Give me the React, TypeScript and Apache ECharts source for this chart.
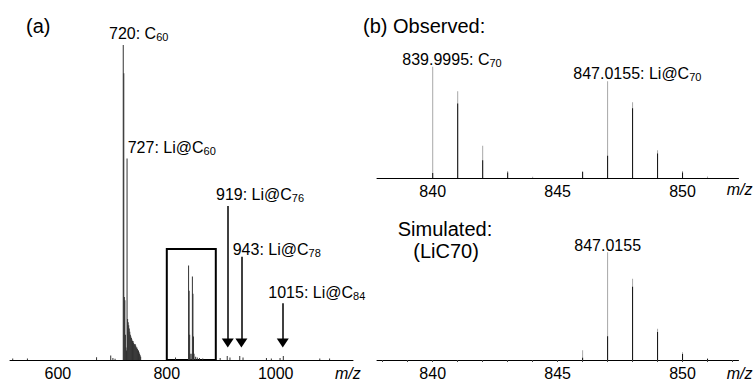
import React, { useEffect, useRef } from "react";
import * as echarts from "echarts";

// ---------- Data ----------
// (a) survey spectrum: m/z and relative intensity (% of the 720 peak)
const surveyMz = [
  517, 544, 671, 697, 701, 705,
  720, 721, 722, 723, 724, 725, 726, 727, 728, 729, 730, 731, 732, 733, 734, 735, 736, 737, 738, 739,
  740, 741, 742, 743, 744, 745, 746, 747, 748, 749, 750, 751, 752,
  816, 840, 841, 842, 843, 846, 847, 848, 849, 850, 853, 856, 860, 866,
  898, 911, 916, 934, 940, 983, 992, 1008, 1014, 1081, 1099,
];
const surveyInt = [
  0.5, 0.5, 0.9, 1.4, 0.6, 0.4,
  100, 91, 20, 19, 8, 4, 3, 64, 13, 12, 11, 10, 9, 8, 7.5, 7, 6.5, 6, 6, 5.5,
  5, 5, 5, 4.5, 4, 4, 3.5, 3, 3, 2.5, 2, 1.5, 1,
  0.8, 30, 22, 8, 2, 2, 26.5, 21, 7.5, 2, 1, 0.8, 0.6, 0.5,
  0.6, 1.3, 0.8, 1.3, 0.8, 0.6, 0.5, 0.6, 1.3, 0.5, 0.5,
];
const surveyTicks = [600, 800, 1000];
const arrowMz = [912, 937, 1013];
const arrowTop = [48.9, 32.8, 18];
const arrowEnd = 5.4;
const boxMz = [800, 890];
const boxTop = 35.2;

// (b) observed (profile = grey trace, stick = black trace), % of 839.9995 peak
const obsMz = [840, 841, 842, 843, 844, 846, 847, 848, 849, 850, 851];
const obsProfile = [100, 78, 29, 6.3, 1.2, 6.3, 87, 68, 25, 6.3, 1.3];
const obsStick = [4.5, 67, 16, 5, 0, 5.5, 20, 62.6, 22, 5, 0];

// (b) simulated LiC70, % of 847.0155 peak
const simMz = [846, 847, 848, 849, 850, 851];
const simProfile = [9, 100, 75.5, 29, 7.3, 1.8];
const simStick = [2, 22, 68, 26, 5.5, 1];

const zoomTicks = [840, 845, 850];
const zoomMinor = [838, 839, 840, 841, 842, 843, 844, 845, 846, 847, 848, 849, 850, 851, 852];

// ---------- helpers ----------
const FONT = "'Liberation Sans', Arial, Helvetica, sans-serif";

const pairs = (xs: number[], ys: number[]) => xs.map((x, i) => [x, ys[i]]);

function label(x: number, y: number, main: string, sub?: string, size = 16, italic = false) {
  const subSize = Math.round(size * 0.68);
  return {
    type: "text",
    x,
    y,
    silent: true,
    style: {
      text: sub ? `{m|${main}}{s|${sub}}` : `{m|${main}}`,
      align: "left",
      verticalAlign: "middle",
      textAlign: "left",
      textVerticalAlign: "middle",
      fill: "#000",
      fontFamily: FONT,
      fontSize: size,
      rich: {
        m: {
          fontSize: size,
          fontFamily: FONT,
          fontStyle: italic ? "italic" : "normal",
          lineHeight: size + 2,
          fill: "#000",
          color: "#000",
        },
        s: {
          fontSize: subSize,
          fontFamily: FONT,
          lineHeight: subSize,
          verticalAlign: "bottom",
          fill: "#000",
          color: "#000",
        },
      },
    },
  };
}

export default function App() {
  const ref = useRef<HTMLDivElement>(null);

  useEffect(() => {
    if (!ref.current) return;
    const chart = echarts.init(ref.current, undefined, { renderer: "svg" });

    const axisLabelBase = {
      fontSize: 16,
      color: "#000",
      fontFamily: FONT,
      margin: 5,
      formatter: (v: number) => String(v),
    };

    const option: any = {
      animation: false,
      backgroundColor: "#fff",
      grid: [
        { left: 10, right: 402, top: 45, bottom: 19 },
        { left: 377, right: 16.5, top: 66.7, bottom: 203 },
        { left: 377, right: 16.5, top: 252.3, bottom: 18.7 },
      ],
      xAxis: [
        {
          type: "value",
          gridIndex: 0,
          min: 512,
          max: 1142,
          axisLine: { show: true, onZero: false, lineStyle: { color: "#000", width: 1 } },
          axisTick: { show: false },
          splitLine: { show: false },
          axisLabel: { ...axisLabelBase, customValues: surveyTicks },
        },
        {
          type: "value",
          gridIndex: 1,
          min: 837.77,
          max: 852.24,
          axisLine: { show: true, onZero: false, lineStyle: { color: "#000", width: 1 } },
          axisTick: { show: false },
          splitLine: { show: false },
          axisLabel: { ...axisLabelBase, customValues: zoomTicks },
        },
        {
          type: "value",
          gridIndex: 2,
          min: 837.77,
          max: 852.24,
          axisLine: { show: true, onZero: false, lineStyle: { color: "#000", width: 1 } },
          axisTick: {
            show: true,
            customValues: zoomMinor,
            length: 2,
            lineStyle: { color: "#444", width: 1 },
          },
          splitLine: { show: false },
          axisLabel: { ...axisLabelBase, customValues: zoomTicks },
        },
      ],
      yAxis: [
        { type: "value", gridIndex: 0, min: 0, max: 100, show: false },
        { type: "value", gridIndex: 1, min: 0, max: 100, show: false },
        { type: "value", gridIndex: 2, min: 0, max: 100, show: false },
      ],
      series: [
        {
          type: "bar",
          xAxisIndex: 0,
          yAxisIndex: 0,
          barWidth: 1,
          itemStyle: { color: "#333" },
          data: pairs(surveyMz, surveyInt),
          markLine: {
            silent: true,
            symbol: ["none", "triangle"],
            symbolSize: [12, 9],
            label: { show: false },
            lineStyle: { color: "#000", width: 1.5, type: "solid" },
            data: arrowMz.map((m, i) => [
              { coord: [m, arrowTop[i]] },
              { coord: [m, arrowEnd] },
            ]),
          },
          markArea: {
            silent: true,
            itemStyle: { color: "rgba(0,0,0,0)", borderColor: "#000", borderWidth: 2 },
            label: { show: false },
            data: [[{ coord: [boxMz[0], 0] }, { coord: [boxMz[1], boxTop] }]],
          },
        },
        {
          type: "bar",
          xAxisIndex: 1,
          yAxisIndex: 1,
          barWidth: 1,
          barGap: "-100%",
          itemStyle: { color: "#a8a8a8" },
          data: pairs(obsMz, obsProfile),
        },
        {
          type: "bar",
          xAxisIndex: 1,
          yAxisIndex: 1,
          barWidth: 1,
          barGap: "-100%",
          itemStyle: { color: "#111" },
          data: pairs(obsMz, obsStick),
        },
        {
          type: "bar",
          xAxisIndex: 2,
          yAxisIndex: 2,
          barWidth: 1,
          barGap: "-100%",
          itemStyle: { color: "#a8a8a8" },
          data: pairs(simMz, simProfile),
        },
        {
          type: "bar",
          xAxisIndex: 2,
          yAxisIndex: 2,
          barWidth: 1,
          barGap: "-100%",
          itemStyle: { color: "#111" },
          data: pairs(simMz, simStick),
        },
      ],
      graphic: [
        label(26, 25.5, "(a)", undefined, 20),
        label(109, 33.8, "720: C", "60"),
        label(127.7, 147, "727: Li@C", "60"),
        label(216, 194, "919: Li@C", "76"),
        label(232.7, 249.2, "943: Li@C", "78"),
        label(268.3, 292.5, "1015: Li@C", "84"),
        label(335, 373.5, "m/z", undefined, 16, true),
        label(363, 26.4, "(b) Observed:", undefined, 20),
        label(402.3, 59.2, "839.9995: C", "70"),
        label(573.3, 73.5, "847.0155: Li@C", "70"),
        label(726.7, 189, "m/z", undefined, 16, true),
        label(397.7, 228.7, "Simulated:", undefined, 20),
        label(413.3, 250.5, "(LiC70)", undefined, 20),
        label(574.3, 245.2, "847.0155"),
        label(726.7, 373.5, "m/z", undefined, 16, true),
      ],
    };

    chart.setOption(option);
    return () => chart.dispose();
  }, []);

  return <div ref={ref} style={{ width: 755, height: 381, position: "absolute", left: 0, top: 0 }} />;
}
